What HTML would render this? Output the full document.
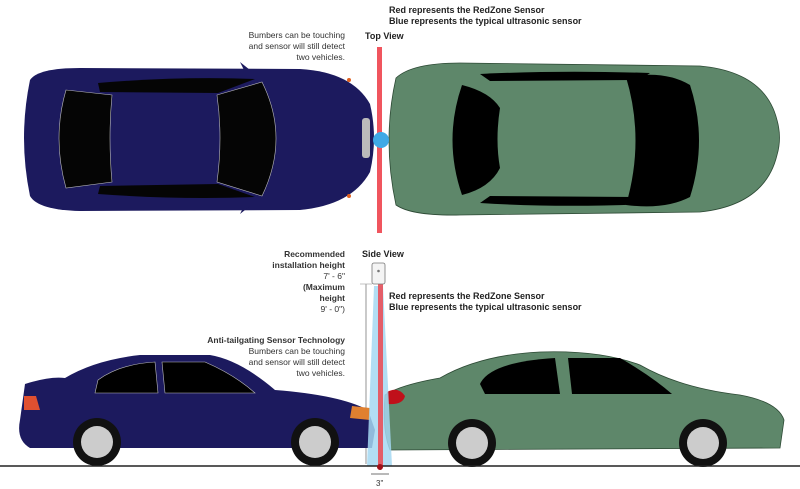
<!DOCTYPE html>
<html><head><meta charset="utf-8"><style>
html,body{margin:0;padding:0;background:#fff;}
svg{display:block;font-family:"Liberation Sans",sans-serif;}
</style></head><body>
<svg width="800" height="489" viewBox="0 0 800 489" xmlns="http://www.w3.org/2000/svg">
<text x="389" y="13" font-size="9" font-weight="bold" fill="#222">Red represents the RedZone Sensor</text>
<text x="389" y="24" font-size="9" font-weight="bold" fill="#222">Blue represents the typical ultrasonic sensor</text>
<text x="365" y="39" font-size="9" font-weight="bold" fill="#222">Top View</text>
<g font-size="8.5" fill="#333" text-anchor="end">
<text x="345" y="38">Bumbers can be touching</text>
<text x="345" y="49">and sensor will still detect</text>
<text x="345" y="60">two vehicles.</text>
</g>

<!-- TOP VIEW blue car -->
<path d="M30 80 Q18 138 30 196 Q38 210 80 211 L300 210 Q352 205 370 172 Q378 138 370 104 Q352 72 300 69 L80 68 Q38 68 30 80Z" fill="#1c1a5e"/>
<path d="M240 62 L250 70 L246 74Z" fill="#1c1a5e"/>
<path d="M240 214 L250 206 L246 202Z" fill="#1c1a5e"/>
<path d="M66 90 L112 95 Q108 138 112 182 L66 188 Q52 138 66 90Z" fill="#050505" stroke="#bbb" stroke-width="0.6"/>
<path d="M217 95 L262 82 Q290 138 262 196 L217 182 Q223 138 217 95Z" fill="#050505" stroke="#bbb" stroke-width="0.6"/>
<path d="M98 83 Q180 76 255 79 L218 93 L100 92Z" fill="#050505"/>
<path d="M98 194 Q180 200 255 197 L218 184 L100 186Z" fill="#050505"/>
<rect x="362" y="118" width="8" height="40" rx="3" fill="#bbb"/>
<circle cx="349" cy="80" r="2" fill="#e06020"/><circle cx="349" cy="196" r="2" fill="#e06020"/>
<!-- TOP VIEW green car -->
<path d="M396 78 Q382 140 396 205 Q412 216 460 215 L700 212 Q765 205 777 155 Q782 138 777 120 Q765 72 700 66 L460 63 Q412 63 396 78Z" fill="#5e876a" stroke="#2d4a35" stroke-width="0.8"/>
<path d="M462 85 Q490 92 500 108 Q495 140 500 168 Q490 188 462 195 Q443 140 462 85Z" fill="#000"/>
<path d="M626 77 Q665 70 690 85 Q708 140 690 197 Q665 210 626 205 Q645 140 626 77Z" fill="#000"/>
<path d="M480 74 Q560 70 650 73 L640 80 L490 81Z" fill="#000"/>
<path d="M480 203 Q560 208 650 204 L640 197 L490 196Z" fill="#000"/>
<!-- red bar and blue dot -->
<rect x="377" y="47" width="5" height="186" fill="#f0555e"/>
<circle cx="381" cy="140" r="8" fill="#3fa9e6"/>

<!-- SIDE VIEW text -->
<text x="362" y="257" font-size="9" font-weight="bold" fill="#222">Side View</text>
<g font-size="8.5" text-anchor="end" fill="#333">
<text x="345" y="257" font-weight="bold">Recommended</text>
<text x="345" y="268" font-weight="bold">installation height</text>
<text x="345" y="279">7' - 6"</text>
<text x="345" y="290" font-weight="bold">(Maximum</text>
<text x="345" y="301" font-weight="bold">height</text>
<text x="345" y="312">9' - 0")</text>
<text x="345" y="343" font-weight="bold">Anti-tailgating Sensor Technology</text>
<text x="345" y="354">Bumbers can be touching</text>
<text x="345" y="365">and sensor will still detect</text>
<text x="345" y="376">two vehicles.</text>
</g>
<text x="389" y="299" font-size="9" font-weight="bold" fill="#222">Red represents the RedZone Sensor</text>
<text x="389" y="310" font-size="9" font-weight="bold" fill="#222">Blue represents the typical ultrasonic sensor</text>
<line x1="366" y1="284" x2="366" y2="464" stroke="#666" stroke-width="0.7"/>
<line x1="360" y1="284" x2="372" y2="284" stroke="#aaa" stroke-width="0.7"/>

<!-- side blue car -->
<path d="M25 384 Q50 376 65 378 Q95 360 140 355 L210 355 Q240 360 275 390 Q340 395 368 410 L375 430 L372 448 L30 448 Q16 440 20 420 Z" fill="#1c1a5e"/>
<path d="M98 380 Q120 364 155 362 L158 393 L95 393Z" fill="#000" stroke="#bbb" stroke-width="0.6"/>
<path d="M162 362 L205 362 Q235 375 255 393 L165 393Z" fill="#000" stroke="#bbb" stroke-width="0.6"/>
<path d="M24 396 L36 396 L40 410 L24 410Z" fill="#e05030"/>
<path d="M352 406 L370 408 L370 420 L350 418Z" fill="#e08030"/>
<circle cx="97" cy="442" r="24" fill="#111"/><circle cx="97" cy="442" r="16" fill="#ccc"/>
<circle cx="315" cy="442" r="24" fill="#111"/><circle cx="315" cy="442" r="16" fill="#ccc"/>
<!-- side green car -->
<path d="M385 395 Q400 385 440 378 Q480 355 540 352 Q600 350 640 365 Q680 388 740 395 Q778 402 784 420 L780 448 L390 450 Q382 430 385 395Z" fill="#5e876a" stroke="#2d4a35" stroke-width="0.8"/>
<path d="M480 384 Q490 362 555 358 L560 394 L485 394Z" fill="#000"/>
<path d="M568 358 L620 358 Q650 375 672 394 L572 394Z" fill="#000"/>
<path d="M387 392 Q398 386 405 396 Q403 405 388 404Z" fill="#c0101a"/>
<circle cx="472" cy="443" r="24" fill="#111"/><circle cx="472" cy="443" r="16" fill="#ccc"/>
<circle cx="703" cy="443" r="24" fill="#111"/><circle cx="703" cy="443" r="16" fill="#ccc"/>

<!-- beams -->
<polygon points="374,286 383,286 392,466 367,466" fill="#a5d8f2" opacity="0.85"/>
<rect x="378" y="284" width="5" height="182" fill="#e8505a" opacity="0.9"/>
<rect x="372" y="263" width="13" height="21" rx="2" fill="#f4f4f4" stroke="#777" stroke-width="0.8"/>
<circle cx="378.5" cy="271" r="1.3" fill="#777"/>
<line x1="0" y1="466" x2="800" y2="466" stroke="#222" stroke-width="1.5"/>
<circle cx="380" cy="467" r="3" fill="#a01018"/>
<line x1="371" y1="474" x2="389" y2="474" stroke="#444" stroke-width="0.7"/>
<text x="376" y="486" font-size="8" fill="#333">3"</text>
</svg>
</body></html>
